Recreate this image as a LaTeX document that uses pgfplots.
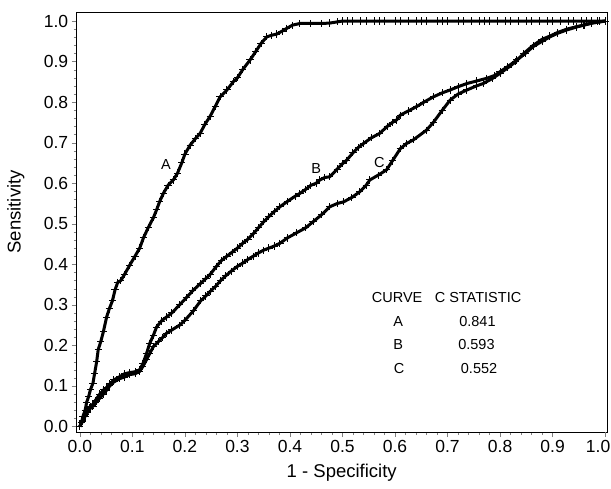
\documentclass[border=0pt]{standalone}
\usepackage{pgfplots}
\pgfplotsset{compat=1.18}
\usepackage{fontspec}
\setmainfont{Liberation Sans}

\pgfplotsset{rocstyle/.style={black, line width=3pt, line join=round, mark=+, mark size=3.6pt,
    mark options={black, line width=1pt}}}

\begin{document}
\begin{tikzpicture}
\useasboundingbox (-76.7pt,-56pt) rectangle (534.3pt,432pt);
\begin{axis}[
  at={(0,0)}, anchor=south west,
  scale only axis, width=530pt, height=419.3pt,
  xmin=-0.006, xmax=1.003, ymin=-0.0136, ymax=1.0206,
  xtick={0,0.1,...,0.91}, ytick={0,0.1,...,1.01},
  extra x ticks={1},
  extra x tick style={xticklabel style={xshift=-7pt}},
  minor tick num=4,
  tick align=outside, tick pos=left,
  major tick length=5pt, minor tick length=3pt,
  /pgf/number format/assume math mode=true,
  /pgf/number format/fixed, /pgf/number format/fixed zerofill,
  /pgf/number format/precision=1,
  tick label style={font=\fontsize{17.5}{19}\selectfont},
  xlabel={1 - Specificity}, ylabel={Sensitivity},
  label style={font=\fontsize{18.5}{20}\selectfont},
  xlabel style={at={(axis description cs:0.5,-0.098)}, anchor=center},
  ylabel style={at={(axis description cs:-0.115,0.525)}, anchor=center},
]
% curve A
\addplot[rocstyle] coordinates {
(0,0)(0.003,0.01)(0.006,0.025)(0.01,0.04)(0.013,0.06)(0.017,0.075)(0.02,0.09)
(0.025,0.107)(0.028,0.13)(0.032,0.16)(0.035,0.19)(0.04,0.21)(0.045,0.235)
(0.051,0.27)(0.056,0.29)(0.062,0.31)(0.067,0.337)(0.072,0.355)(0.078,0.36)
(0.085,0.375)(0.095,0.398)(0.105,0.42)(0.114,0.44)(0.121,0.465)(0.13,0.49)
(0.14,0.515)(0.146,0.534)(0.152,0.555)(0.159,0.575)(0.168,0.595)(0.178,0.608)
(0.186,0.625)(0.194,0.65)(0.2,0.672)(0.21,0.694)(0.22,0.71)(0.229,0.723)
(0.238,0.745)(0.248,0.765)(0.258,0.79)(0.267,0.813)(0.28,0.83)(0.292,0.85)
(0.3,0.86)(0.31,0.88)(0.324,0.904)(0.335,0.925)(0.345,0.945)(0.356,0.961)
(0.365,0.965)(0.375,0.968)(0.385,0.975)(0.394,0.982)(0.405,0.99)(0.419,0.994)
(0.44,0.994)(0.46,0.994)(0.476,0.995)(0.49,0.998)(0.5,1)
(0.51,1)(0.52,1)(0.535,1)(0.545,1)(0.56,1)(0.57,1)(0.58,1)(0.6,1)(0.61,1)
(0.625,1)(0.64,1)(0.65,1)(0.66,1)(0.68,1)(0.69,1)(0.7,1)(0.72,1)(0.73,1)
(0.745,1)(0.76,1)(0.77,1)(0.78,1)(0.795,1)(0.81,1)(0.82,1)(0.835,1)(0.85,1)
(0.86,1)(0.875,1)(0.89,1)(0.9,1)(0.915,1)(0.93,1)(0.94,1)(0.955,1)(0.965,1)
(0.975,1)(0.985,1)(0.99,1)(1,1)
};
% curve B
\addplot[rocstyle] coordinates {
(0,0)(0.005,0.015)(0.01,0.03)(0.015,0.04)(0.02,0.05)(0.025,0.055)(0.03,0.065)
(0.038,0.08)(0.045,0.09)(0.05,0.095)(0.057,0.105)(0.065,0.115)(0.076,0.123)
(0.085,0.13)(0.095,0.133)(0.105,0.135)(0.114,0.14)(0.12,0.155)(0.127,0.18)
(0.133,0.205)(0.14,0.225)(0.146,0.245)(0.155,0.26)(0.165,0.27)(0.175,0.28)
(0.19,0.3)(0.203,0.318)(0.215,0.335)(0.229,0.352)(0.24,0.365)(0.248,0.375)
(0.26,0.395)(0.27,0.41)(0.28,0.42)(0.29,0.43)(0.3,0.44)(0.31,0.452)(0.32,0.462)
(0.33,0.475)(0.34,0.49)(0.35,0.505)(0.36,0.518)(0.37,0.53)(0.381,0.542)
(0.395,0.555)(0.41,0.568)(0.419,0.575)(0.43,0.585)(0.44,0.595)(0.45,0.6)
(0.457,0.608)(0.466,0.614)(0.476,0.616)(0.49,0.635)(0.5,0.648)(0.508,0.657)
(0.52,0.675)(0.53,0.688)(0.54,0.698)(0.555,0.712)(0.571,0.723)(0.585,0.74)
(0.595,0.75)(0.603,0.756)(0.61,0.768)(0.625,0.778)(0.641,0.789)(0.655,0.8)
(0.673,0.813)(0.69,0.823)(0.705,0.83)(0.72,0.838)(0.737,0.846)(0.755,0.852)
(0.775,0.859)(0.79,0.866)(0.8,0.875)(0.815,0.888)(0.832,0.904)(0.848,0.92)
(0.863,0.937)(0.88,0.95)(0.895,0.961)(0.91,0.97)(0.927,0.978)(0.945,0.985)
(0.959,0.99)(0.975,0.995)(0.99,0.998)(1,1)
};
% curve C
\addplot[rocstyle] coordinates {
(0,0)(0.005,0.012)(0.01,0.025)(0.015,0.035)(0.02,0.045)(0.025,0.05)(0.03,0.058)
(0.038,0.07)(0.045,0.08)(0.05,0.088)(0.057,0.1)(0.065,0.11)(0.076,0.118)
(0.085,0.122)(0.095,0.128)(0.105,0.13)(0.114,0.136)(0.12,0.148)(0.127,0.165)
(0.133,0.18)(0.14,0.197)(0.15,0.21)(0.158,0.22)(0.165,0.23)(0.175,0.238)
(0.19,0.25)(0.2,0.262)(0.216,0.285)(0.23,0.31)(0.24,0.322)(0.248,0.333)
(0.258,0.345)(0.268,0.36)(0.278,0.372)(0.288,0.383)(0.3,0.395)(0.31,0.403)
(0.32,0.412)(0.33,0.42)(0.34,0.428)(0.35,0.435)(0.36,0.44)(0.37,0.445)
(0.381,0.452)(0.395,0.465)(0.413,0.478)(0.43,0.49)(0.444,0.505)(0.46,0.522)
(0.476,0.542)(0.49,0.55)(0.502,0.554)(0.518,0.565)(0.533,0.579)(0.545,0.595)
(0.552,0.608)(0.568,0.62)(0.584,0.633)(0.595,0.655)(0.61,0.685)(0.622,0.698)
(0.635,0.707)(0.66,0.731)(0.673,0.75)(0.69,0.78)(0.705,0.805)(0.72,0.82)
(0.737,0.83)(0.755,0.84)(0.768,0.846)(0.785,0.858)(0.8,0.871)(0.815,0.885)
(0.83,0.9)(0.845,0.92)(0.863,0.94)(0.88,0.955)(0.895,0.963)(0.91,0.972)
(0.927,0.98)(0.945,0.986)(0.96,0.99)(0.975,0.995)(0.99,0.998)(1,1)
};
\begin{scope}[every node/.style={font=\fontsize{14.5}{16}\selectfont}]
\node at (axis cs:0.164,0.647) {A};
\node at (axis cs:0.45,0.637) {B};
\node at (axis cs:0.57,0.652) {C};
\node at (axis cs:0.604,0.317) {CURVE};
\node at (axis cs:0.758,0.317) {C STATISTIC};
\node at (axis cs:0.606,0.260) {A};
\node at (axis cs:0.606,0.201) {B};
\node at (axis cs:0.608,0.142) {C};
\node at (axis cs:0.757,0.260) {0.841};
\node at (axis cs:0.755,0.201) {0.593};
\node at (axis cs:0.760,0.142) {0.552};
\end{scope}
\end{axis}
\end{tikzpicture}
\end{document}
